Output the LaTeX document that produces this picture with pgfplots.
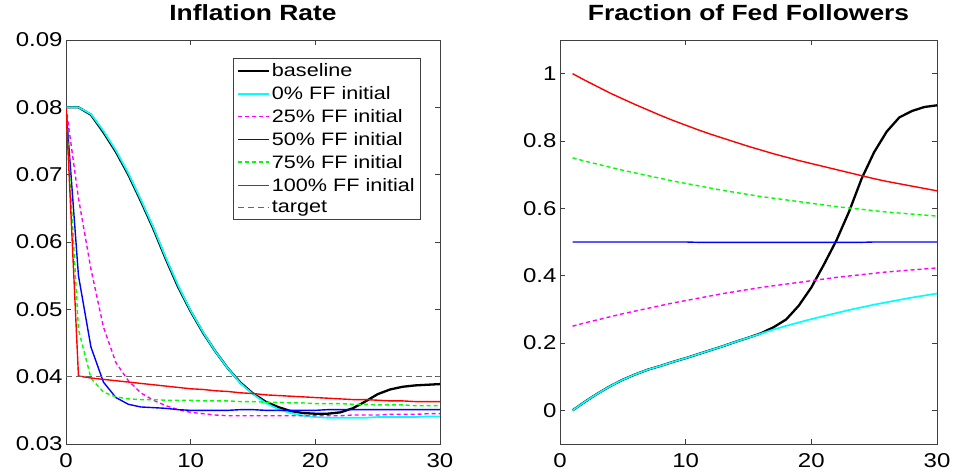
\documentclass[border=0pt]{standalone}
\usepackage{fontspec}
\setmainfont{Liberation Sans}[FakeStretch=1.2]
\usepackage{pgfplots}
\usepackage{pgfplotstable}
\pgfplotsset{compat=1.18}

\definecolor{mcyan}{rgb}{0,1,1}
\definecolor{mmagenta}{rgb}{1,0,1}
\definecolor{mblue}{rgb}{0,0,1}
\definecolor{mgreen}{rgb}{0,1,0}
\definecolor{mred}{rgb}{1,0,0}
\definecolor{mgray}{rgb}{0.4,0.4,0.4}

% inflation paths, t = 0..30
\pgfplotstableread{
t  base    ff0     ff25    ff50    ff75    ff100
0  0.0800  0.0800  0.0800  0.0800  0.0800  0.0800
1  0.0800  0.0800  0.0665  0.0550  0.0470  0.0401
2  0.0789  0.0790  0.0560  0.0444  0.0398  0.0398
3  0.0763  0.0765  0.0474  0.0392  0.0377  0.0396
4  0.0734  0.0736  0.0421  0.0369  0.0370  0.0394
5  0.0700  0.0702  0.0394  0.0359  0.0367  0.0392
6  0.0661  0.0663  0.0376  0.0355  0.0366  0.0390
7  0.0620  0.0622  0.0365  0.0354  0.0366  0.0388
8  0.0575  0.0577  0.0357  0.0353  0.0365  0.0386
9  0.0533  0.0535  0.0351  0.0351  0.0365  0.0384
10 0.0497  0.0498  0.0347  0.0350  0.0365  0.0382
11 0.0465  0.0466  0.0345  0.0350  0.0364  0.0381
12 0.0437  0.0437  0.0343  0.0350  0.0364  0.0379
13 0.0412  0.0412  0.0342  0.0350  0.0364  0.0378
14 0.0391  0.0390  0.0342  0.0351  0.0363  0.0376
15 0.0375  0.0374  0.0342  0.0351  0.0363  0.0375
16 0.0363  0.0361  0.0342  0.0350  0.0362  0.0373
17 0.0355  0.0352  0.0342  0.0350  0.0362  0.0372
18 0.0349  0.0346  0.0342  0.0350  0.0361  0.0371
19 0.0346  0.0342  0.0342  0.0350  0.0361  0.0370
20 0.0345  0.0340  0.0342  0.0350  0.0360  0.0369
21 0.0345  0.0339  0.0342  0.0351  0.0360  0.0368
22 0.0347  0.0339  0.0342  0.0351  0.0360  0.0367
23 0.0353  0.0339  0.0343  0.0351  0.0359  0.0366
24 0.0363  0.0339  0.0343  0.0351  0.0359  0.0366
25 0.0374  0.0340  0.0343  0.0351  0.0358  0.0365
26 0.0381  0.0340  0.0344  0.0351  0.0358  0.0364
27 0.0385  0.0340  0.0344  0.0351  0.0358  0.0364
28 0.0387  0.0340  0.0344  0.0351  0.0357  0.0363
29 0.0388  0.0341  0.0345  0.0351  0.0357  0.0363
30 0.0389  0.0341  0.0345  0.0351  0.0357  0.0363
}\inflation

% share of Fed followers, t = 1..30
\pgfplotstableread{
t  base   ff0    ff25   ff50   ff75   ff100
1  0.000  0.000  0.250  0.500  0.750  1.000
2  0.026  0.026  0.260  0.500  0.740  0.980
3  0.050  0.050  0.269  0.500  0.731  0.961
4  0.072  0.072  0.278  0.500  0.722  0.942
5  0.091  0.091  0.287  0.500  0.713  0.925
6  0.107  0.107  0.295  0.500  0.705  0.908
7  0.121  0.121  0.303  0.500  0.697  0.892
8  0.132  0.132  0.311  0.500  0.689  0.876
9  0.144  0.144  0.319  0.500  0.681  0.861
10 0.155  0.155  0.326  0.500  0.674  0.847
11 0.167  0.167  0.333  0.499  0.667  0.833
12 0.179  0.179  0.340  0.499  0.660  0.820
13 0.191  0.191  0.347  0.499  0.653  0.808
14 0.204  0.204  0.353  0.499  0.647  0.796
15 0.216  0.216  0.359  0.499  0.641  0.784
16 0.229  0.228  0.365  0.499  0.635  0.773
17 0.247  0.240  0.370  0.499  0.630  0.762
18 0.270  0.251  0.375  0.499  0.625  0.752
19 0.311  0.261  0.380  0.499  0.620  0.742
20 0.365  0.271  0.385  0.499  0.615  0.733
21 0.433  0.280  0.390  0.499  0.610  0.724
22 0.505  0.289  0.395  0.499  0.605  0.715
23 0.590  0.298  0.399  0.499  0.601  0.706
24 0.688  0.306  0.403  0.499  0.597  0.697
25 0.767  0.314  0.407  0.500  0.593  0.688
26 0.828  0.321  0.411  0.500  0.589  0.680
27 0.870  0.328  0.414  0.500  0.586  0.673
28 0.889  0.335  0.417  0.500  0.583  0.666
29 0.901  0.341  0.420  0.500  0.580  0.659
30 0.906  0.347  0.423  0.500  0.577  0.652
}\followers

\pgfplotsset{
  panel/.style={
    scale only axis, anchor=south west,
    height=404bp, xmin=0, xmax=30, xtick={0,10,20,30},
    scaled ticks=false,
    axis line style={black!75}, every tick/.style={black!75},
    major tick length=5bp, tick align=inside,
    tick label style={font=\fontsize{20bp}{24bp}\selectfont},
    xticklabel style={yshift=-6bp},
    /pgf/number format/assume math mode=true,
    title style={font=\fontsize{22bp}{26bp}\selectfont\bfseries,
      anchor=base, at={(0.5,1)}, yshift=14bp},
  },
  thin line/.style={line width=1.4bp},
  short dash/.style={dash pattern=on 4bp off 3bp},
  bold sample/.style={legend image post style={line width=2bp}},
}

\begin{document}
\begin{tikzpicture}
\useasboundingbox (0,0) rectangle (953bp,475bp);

\begin{axis}[panel, at={(66bp,31bp)}, width=374bp,
  title={Inflation Rate},
  ymin=0.03, ymax=0.09, ytick={0.03,0.04,...,0.09},
  yticklabel style={/pgf/number format/fixed,
    /pgf/number format/fixed zerofill, /pgf/number format/precision=2},
  legend cell align=left,
  legend image code/.code={\draw[#1] (0bp,0bp) -- (31bp,0bp);},
  legend style={at={(0.9465,0.9547)}, anchor=north east, draw=black!75,
    font=\fontsize{18bp}{21bp}\selectfont, row sep=4.4bp,
    inner xsep=3bp, inner ysep=3bp},
]
\addplot[color=black, line width=2.3bp] table[x=t, y=base] {\inflation};
\addlegendentry{baseline}
\addplot[color=mcyan, line width=1.7bp, bold sample] table[x=t, y=ff0] {\inflation};
\addlegendentry{0\% FF initial}
\addplot[color=mmagenta, thin line, short dash] table[x=t, y=ff25] {\inflation};
\addlegendentry{25\% FF initial}
\addplot[color=mblue, thin line] table[x=t, y=ff50] {\inflation};
\addlegendentry{50\% FF initial}
\addplot[color=mgreen, thin line, short dash, bold sample] table[x=t, y=ff75] {\inflation};
\addlegendentry{75\% FF initial}
\addplot[color=mred, thin line] table[x=t, y=ff100] {\inflation};
\addlegendentry{100\% FF initial}
\addplot[color=mgray, thin line, dash pattern=on 6bp off 4bp] coordinates {(0,0.04) (30,0.04)};
\addlegendentry{target}
\end{axis}

\begin{axis}[panel, at={(560bp,31bp)}, width=377bp,
  title={Fraction of Fed Followers},
  ymin=-0.1, ymax=1.1, ytick={0,0.2,...,1},
  yticklabel style={/pgf/number format/fixed, /pgf/number format/precision=1},
]
\addplot[color=black, line width=2.3bp] table[x=t, y=base] {\followers};
\addplot[color=mcyan, line width=1.7bp] table[x=t, y=ff0] {\followers};
\addplot[color=mmagenta, thin line, short dash] table[x=t, y=ff25] {\followers};
\addplot[color=mblue, thin line] table[x=t, y=ff50] {\followers};
\addplot[color=mgreen, thin line, short dash] table[x=t, y=ff75] {\followers};
\addplot[color=mred, thin line] table[x=t, y=ff100] {\followers};
\end{axis}
\end{tikzpicture}
\end{document}
